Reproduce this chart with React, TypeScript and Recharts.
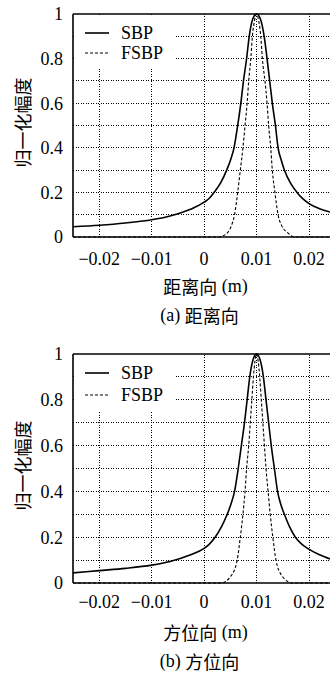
import { LineChart, Line, XAxis, YAxis, ReferenceLine, Legend } from "recharts";

const SERIF = "Liberation Serif";
const CJK = "Noto Sans CJK SC";

// (a) range direction: position (m) and normalised amplitude
const rangeSbpX = [-0.025, -0.02, -0.015, -0.01, -0.0065, -0.0026, 0, 0.001, 0.0019, 0.0032, 0.0043, 0.0051, 0.0057, 0.0064, 0.007, 0.0075, 0.0081, 0.0086, 0.0093, 0.01, 0.0107, 0.01145, 0.012, 0.0125, 0.013, 0.0136, 0.0141, 0.0147, 0.0153, 0.0165, 0.0177, 0.0188, 0.02, 0.022, 0.024];
const rangeSbpY = [0.046, 0.053, 0.063, 0.077, 0.094, 0.124, 0.156, 0.174, 0.2, 0.245, 0.3, 0.35, 0.4, 0.5, 0.6, 0.7, 0.8, 0.9, 0.98, 1, 0.98, 0.9, 0.8, 0.7, 0.6, 0.5, 0.4, 0.345, 0.3, 0.24, 0.2, 0.172, 0.15, 0.127, 0.112];
const rangeFsbpX = [-0.025, 0.0028, 0.0045, 0.0052, 0.0058, 0.0064, 0.0069, 0.0074, 0.0078, 0.0082, 0.0085, 0.0089, 0.0092, 0.0096, 0.01, 0.0104, 0.0108, 0.0111, 0.0116, 0.012, 0.0123, 0.0127, 0.013, 0.0135, 0.0141, 0.0148, 0.0159, 0.0172, 0.024];
const rangeFsbpY = [0, 0, 0.02, 0.05, 0.1, 0.2, 0.3, 0.4, 0.5, 0.6, 0.7, 0.8, 0.9, 0.97, 1, 0.97, 0.9, 0.8, 0.7, 0.6, 0.5, 0.4, 0.3, 0.2, 0.1, 0.05, 0.02, 0, 0];

// (b) azimuth direction
const azimSbpX = [-0.025, -0.02, -0.015, -0.01, -0.0065, -0.0027, 0, 0.001, 0.0021, 0.0033, 0.0044, 0.0052, 0.0058, 0.0065, 0.0071, 0.0077, 0.0082, 0.0087, 0.0094, 0.01, 0.0106, 0.0113, 0.0118, 0.0123, 0.0128, 0.0134, 0.014, 0.0146, 0.0153, 0.0163, 0.0174, 0.0186, 0.0198, 0.022, 0.024];
const azimSbpY = [0.044, 0.054, 0.064, 0.078, 0.094, 0.122, 0.151, 0.17, 0.2, 0.245, 0.3, 0.35, 0.4, 0.5, 0.6, 0.7, 0.8, 0.9, 0.98, 1, 0.98, 0.9, 0.8, 0.7, 0.6, 0.5, 0.4, 0.345, 0.3, 0.245, 0.2, 0.17, 0.15, 0.123, 0.105];
const azimFsbpX = [-0.025, 0.0032, 0.0051, 0.0063, 0.0069, 0.0074, 0.0078, 0.0081, 0.0085, 0.0088, 0.0091, 0.0094, 0.0097, 0.01, 0.0103, 0.0106, 0.0109, 0.0112, 0.0115, 0.0118, 0.0122, 0.0126, 0.0131, 0.0137, 0.0149, 0.0168, 0.024];
const azimFsbpY = [0, 0, 0.03, 0.1, 0.2, 0.3, 0.4, 0.5, 0.6, 0.7, 0.8, 0.9, 0.97, 1, 0.97, 0.9, 0.8, 0.7, 0.6, 0.5, 0.4, 0.3, 0.2, 0.1, 0.03, 0, 0];

const seriesNames = ["SBP", "FSBP"];
const xTicks = [-0.02, -0.01, 0, 0.01, 0.02];
const yTicks = [0, 0.2, 0.4, 0.6, 0.8, 1];
const yGrid = [0.1, 0.2, 0.3, 0.4, 0.5, 0.6, 0.7, 0.8, 0.9];

const toPoints = (xs: number[], ys: number[]) => xs.map((x, i) => ({ x, y: ys[i] }));

function fmtX(v: number) {
    if (v === 0) return "0";
    return (v < 0 ? "\u2212" : "") + Math.abs(v);
}

const XTick = (p: any) => (
    <text x={p.x} y={p.y} dy="0.71em" textAnchor="middle" style={{ fontFamily: SERIF, fontSize: 18 }} fill="#000">
        {fmtX(p.payload.value)}
    </text>
);

const YTick = (p: any) => (
    <text x={p.x} y={p.y} dy="0.355em" textAnchor="end" style={{ fontFamily: SERIF, fontSize: 18 }} fill="#000">
        {String(p.payload.value)}
    </text>
);

interface PanelProps {
    height: number;
    plotHeight: number;
    sbp: { x: number; y: number }[];
    fsbp: { x: number; y: number }[];
    xLabel: string;
    tag: string;
    legendHeight: number;
    tickMargin: number;
}

const gridStyle = { stroke: "#000", strokeDasharray: "1 1.5", strokeWidth: 1, shapeRendering: "crispEdges" };

function Panel({ height, plotHeight, sbp, fsbp, xLabel, tag, legendHeight, tickMargin }: PanelProps) {
    const top = 14;
    const rowGap = legendHeight > 54 ? 21.5 : 19.5;

    const legend = () => (
        <div style={{ position: "relative", width: 101, height: legendHeight, background: "#fff" }}>
            {seriesNames.map((name, i) => {
                const cy = 18 + i * rowGap;
                return (
                    <div key={name}>
                        <svg width={30} height={4} style={{ position: "absolute", left: 11, top: cy - 2 }}>
                            <line x1={0} y1={2} x2={24} y2={2} stroke="#000"
                                strokeWidth={i === 0 ? 1.6 : 1.1}
                                strokeDasharray={i === 0 ? undefined : "3 2"} />
                        </svg>
                        <span style={{
                            position: "absolute", left: 47, top: cy - 11, fontFamily: SERIF,
                            fontSize: 18, lineHeight: "22px", color: "#000",
                        }}>{name}</span>
                    </div>
                );
            })}
        </div>
    );

    return (
        <LineChart width={330} height={height} margin={{ top, right: 0, bottom: 0, left: 0 }}>
            <XAxis
                type="number"
                dataKey="x"
                domain={[-0.025, 0.024]}
                allowDataOverflow
                ticks={xTicks}
                tick={<XTick />}
                tickLine={false}
                tickSize={0}
                tickMargin={tickMargin}
                axisLine={{ stroke: "#000", strokeWidth: 1.6 }}
                height={height - top - plotHeight}
                label={{
                    content: (p: any) => {
                        const vb = p.viewBox;
                        const cx = vb.x + vb.width / 2;
                        return (
                            <g fill="#000" style={{ fontSize: 18 }}>
                                <text x={cx + 4} y={vb.y + 49} textAnchor="middle" dominantBaseline="central">
                                    <tspan style={{ fontFamily: CJK }}>{xLabel}</tspan>
                                    <tspan style={{ fontFamily: SERIF }}> (m)</tspan>
                                </text>
                                <text x={cx - 2} y={vb.y + 78} textAnchor="middle" dominantBaseline="central">
                                    <tspan style={{ fontFamily: SERIF }}>{tag} </tspan>
                                    <tspan style={{ fontFamily: CJK }}>{xLabel}</tspan>
                                </text>
                            </g>
                        );
                    },
                }}
            />
            <YAxis
                type="number"
                domain={[0, 1]}
                ticks={yTicks}
                tick={<YTick />}
                tickLine={false}
                tickSize={0}
                tickMargin={10}
                axisLine={{ stroke: "#000", strokeWidth: 1.6 }}
                width={73}
                label={{
                    content: (p: any) => {
                        const vb = p.viewBox;
                        const cy = vb.y + vb.height / 2 - 3;
                        return (
                            <text x={22} y={cy} transform={`rotate(-90 22 ${cy})`} textAnchor="middle"
                                dominantBaseline="central" style={{ fontFamily: CJK, fontSize: 18 }} fill="#000">
                                归一化幅度
                            </text>
                        );
                    },
                }}
            />
            {yGrid.map((v) => (
                <ReferenceLine key={`h${v}`} y={v} {...gridStyle} />
            ))}
            {xTicks.map((v) => (
                <ReferenceLine key={`v${v}`} x={v} {...gridStyle} />
            ))}
            <ReferenceLine y={1} stroke="#000" strokeWidth={1.6} />
            <Legend
                layout="vertical"
                align="center"
                verticalAlign="middle"
                content={legend}
                wrapperStyle={{ left: 74, top: top + 1, width: 101, height: legendHeight }}
            />
            <Line data={sbp} dataKey="y" name="SBP" type="monotone" stroke="#000" strokeWidth={1.6}
                dot={false} isAnimationActive={false} />
            <Line data={fsbp} dataKey="y" name="FSBP" type="monotone" stroke="#000" strokeWidth={1.1}
                strokeDasharray="3 2" dot={false} isAnimationActive={false} />
        </LineChart>
    );
}

export default function App() {
    return (
        <div style={{ position: "absolute", left: 0, top: 0, width: 330, height: 675, background: "#fff" }}>
            <Panel
                height={330}
                plotHeight={223}
                sbp={toPoints(rangeSbpX, rangeSbpY)}
                fsbp={toPoints(rangeFsbpX, rangeFsbpY)}
                xLabel="距离向"
                tag="(a)"
                legendHeight={52}
                tickMargin={15}
            />
            <div style={{ position: "absolute", left: 0, top: 340 }}>
                <Panel
                    height={335}
                    plotHeight={229}
                    sbp={toPoints(azimSbpX, azimSbpY)}
                    fsbp={toPoints(azimFsbpX, azimFsbpY)}
                    xLabel="方位向"
                    tag="(b)"
                    legendHeight={56}
                    tickMargin={12}
                />
            </div>
        </div>
    );
}
